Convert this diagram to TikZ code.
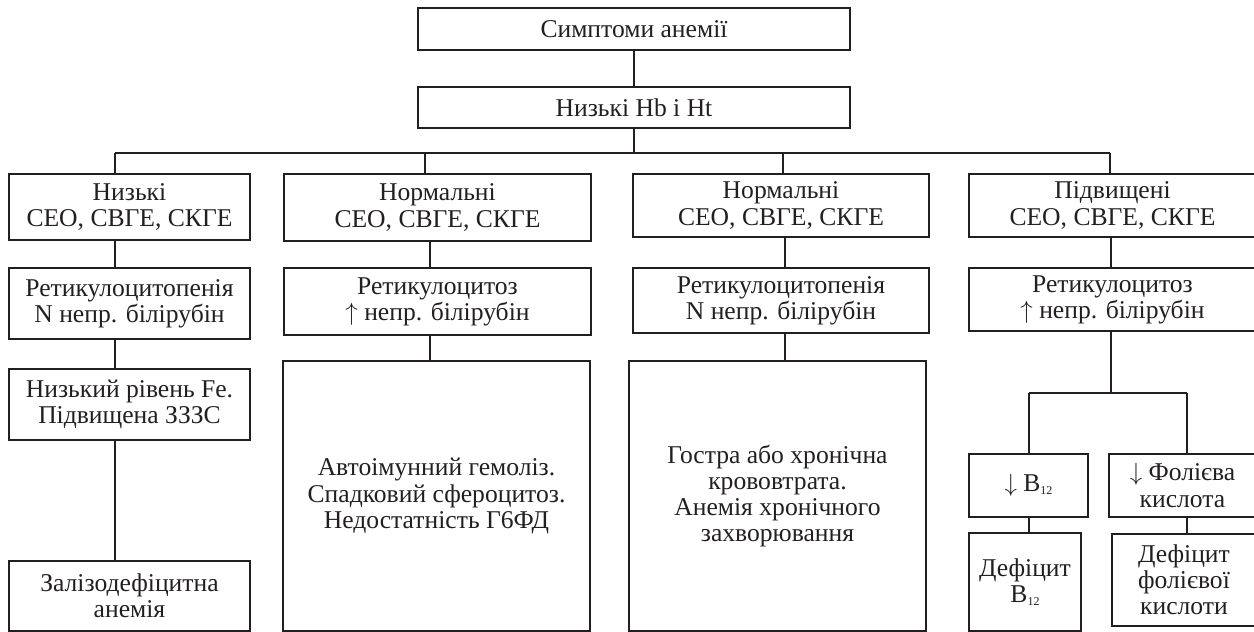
\documentclass[tikz,border=0pt]{standalone}
\usepackage{fontspec}
\setmainfont{Liberation Serif}
\definecolor{ink}{HTML}{231F20}
\newcommand{\lowsub}[1]{\raisebox{-3pt}{\fontsize{12}{12}\selectfont #1}}
\newcommand{\uparr}{$\uparrow$}
\newcommand{\dnarr}{$\downarrow$}
\begin{document}
\begin{tikzpicture}[x=1pt,y=-1pt,
  box/.style={draw=ink, line width=1.2pt, text=ink, align=center, inner sep=0pt,
    font=\fontsize{25.6}{26.2}\selectfont},
  conn/.style={draw=ink, line width=1.2pt}]
\useasboundingbox (0,0) rectangle (1254,632);
% boxes
\node[box, minimum width=432pt, minimum height=42pt] (top) at (634,29) {Симптоми анемії};
\node[box, minimum width=432pt, minimum height=41pt] (hb) at (634,107.5) {Низькі Hb і Ht};
\node[box, minimum width=241pt, minimum height=66pt] (a1) at (129.5,207) {Низькі\\СЕО, СВГЕ, СКГЕ};
\node[box, minimum width=307pt, minimum height=67pt] (b1) at (437.5,207.5) {Нормальні\\СЕО, СВГЕ, СКГЕ};
\node[box, minimum width=296pt, minimum height=63pt] (c1) at (781,205.5) {Нормальні\\СЕО, СВГЕ, СКГЕ};
\node[box, minimum width=287pt, minimum height=63pt] (d1) at (1112.5,205.5) {Підвищені\\СЕО, СВГЕ, СКГЕ};
\node[box, minimum width=241pt, minimum height=71pt] (a2) at (129.5,303.5) {Ретикулоцитопенія\\N непр. білірубін};
\node[box, minimum width=307pt, minimum height=67pt] (b2) at (437.5,301.5) {Ретикулоцитоз\\\uparr{} непр. білірубін};
\node[box, minimum width=296pt, minimum height=65pt] (c2) at (781,300.5) {Ретикулоцитопенія\\N непр. білірубін};
\node[box, minimum width=287pt, minimum height=63pt] (d2) at (1112.5,299.5) {Ретикулоцитоз\\\uparr{} непр. білірубін};
\node[box, minimum width=241pt, minimum height=71pt] (a3) at (129.5,404.5) {Низький рівень Fe.\\Підвищена ЗЗЗС};
\node[box, minimum width=241pt, minimum height=70pt] (a4) at (129.5,596) {Залізодефіцитна\\анемія};
\node[box, minimum width=307pt, minimum height=270pt] (b3) at (436.5,496) {Автоімунний гемоліз.\\Спадковий сфероцитоз.\\Недостатність Г6ФД};
\node[box, minimum width=297pt, minimum height=270pt] (c3) at (777.5,496) {Гостра або хронічна\\крововтрата.\\Анемія хронічного\\захворювання};
\node[box, minimum width=119pt, minimum height=63pt] (d3) at (1028.5,485.5) {\dnarr{} B\lowsub{12}};
\node[box, minimum width=147pt, minimum height=63pt] (e3) at (1182.5,485.5) {\dnarr{} Фолієва\\кислота};
\node[box, minimum width=112pt, minimum height=98pt] (d4) at (1025,582) {Дефіцит\\B\lowsub{12}};
\node[box, minimum width=144pt, minimum height=92pt] (e4) at (1184,580) {Дефіцит\\фолієвої\\кислоти};
% coordinates
\coordinate (bA) at (115,153);
\coordinate (bB) at (425,153);
\coordinate (bC) at (783,153);
\coordinate (bD) at (1110,153);
\coordinate (xa) at (115,0);
\coordinate (xb) at (430,0);
\coordinate (xc) at (785,0);
\coordinate (xd) at (1111,0);
\coordinate (sp) at (1111,393);
\coordinate (spL) at (1029,393);
\coordinate (spR) at (1187,393);
% connectors
\draw[conn] (top.south) -- (hb.north);
\draw[conn] (hb.south) -- (hb.south |- bA);
\draw[conn] (bA) -- (bD);
\foreach \c/\n in {bA/a1,bB/b1,bC/c1,bD/d1} \draw[conn] (\c) -- (\c |- \n.north);
\draw[conn] (a1.south -| xa) -- (a2.north -| xa);
\draw[conn] (b1.south -| xb) -- (b2.north -| xb);
\draw[conn] (c1.south -| xc) -- (c2.north -| xc);
\draw[conn] (d1.south -| xd) -- (d2.north -| xd);
\draw[conn] (a2.south -| xa) -- (a3.north -| xa);
\draw[conn] (a3.south -| xa) -- (a4.north -| xa);
\draw[conn] (b2.south -| xb) -- (b3.north -| xb);
\draw[conn] (c2.south -| xc) -- (c3.north -| xc);
\draw[conn] (d2.south -| xd) -- (sp);
\draw[conn] (spL) -- (spR);
\draw[conn] (spL) -- (spL |- d3.north);
\draw[conn] (spR) -- (spR |- e3.north);
\draw[conn] (d3.south -| spL) -- (d4.north -| spL);
\draw[conn] (e3.south -| spR) -- (e4.north -| spR);
\end{tikzpicture}
\end{document}
